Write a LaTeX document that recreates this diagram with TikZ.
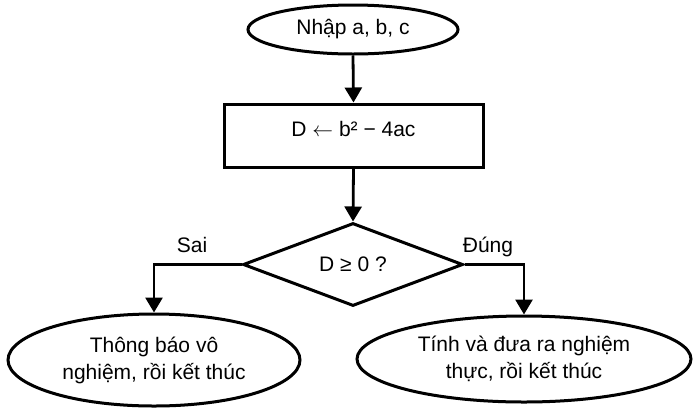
\documentclass[tikz,border=0pt]{standalone}
\usepackage{fontspec}
\setmainfont{Liberation Sans}
\usetikzlibrary{arrows.meta}
\usetikzlibrary{shapes.geometric}

\begin{document}
\begin{tikzpicture}[x=1pt,y=-1pt,line width=3pt,
    every node/.style={font=\fontsize{21}{27}\selectfont},
    ovale/.style={draw, ellipse, inner sep=0pt, align=center},
    fleche/.style={-{Triangle[length=15pt,width=17pt]}, line width=2.8pt}]
    \useasboundingbox (0,0) rectangle (696,408);
    % entrée
    \node[ovale, minimum width=210pt, minimum height=49pt] (entree) at (353,29.5) {Nhập a, b, c};
    % calcul
    \node[draw, minimum width=259pt, minimum height=63pt, text height=14pt, text depth=13pt] (calcul) at (353.5,135.5) {D $\leftarrow$ b² − 4ac};
    % test
    \node[draw, diamond, inner sep=0pt, minimum width=220pt, minimum height=83pt] (test) at (353,264.5) {D ≥ 0 ?};
    % sorties
    \node[ovale, minimum width=292pt, minimum height=92pt] (faux) at (154,360) {Thông báo vô\\nghiệm, rồi kết thúc};
    \node[ovale, minimum width=334pt, minimum height=86pt] (vrai) at (524,359) {Tính và đưa ra nghiệm\\thực, rồi kết thúc};
    % flèches
    \draw[fleche] (entree.south) -- (calcul.north);
    \draw[fleche] (calcul.south) -- (test.north);
    \draw[fleche] (test.west) -| (faux.north);
    \draw[fleche] (test.east) -| (vrai.north);
    \node[anchor=base] (sai) at (192,252) {Sai};
    \node[anchor=base] (dung) at (488,252) {Đúng};
\end{tikzpicture}
\end{document}
